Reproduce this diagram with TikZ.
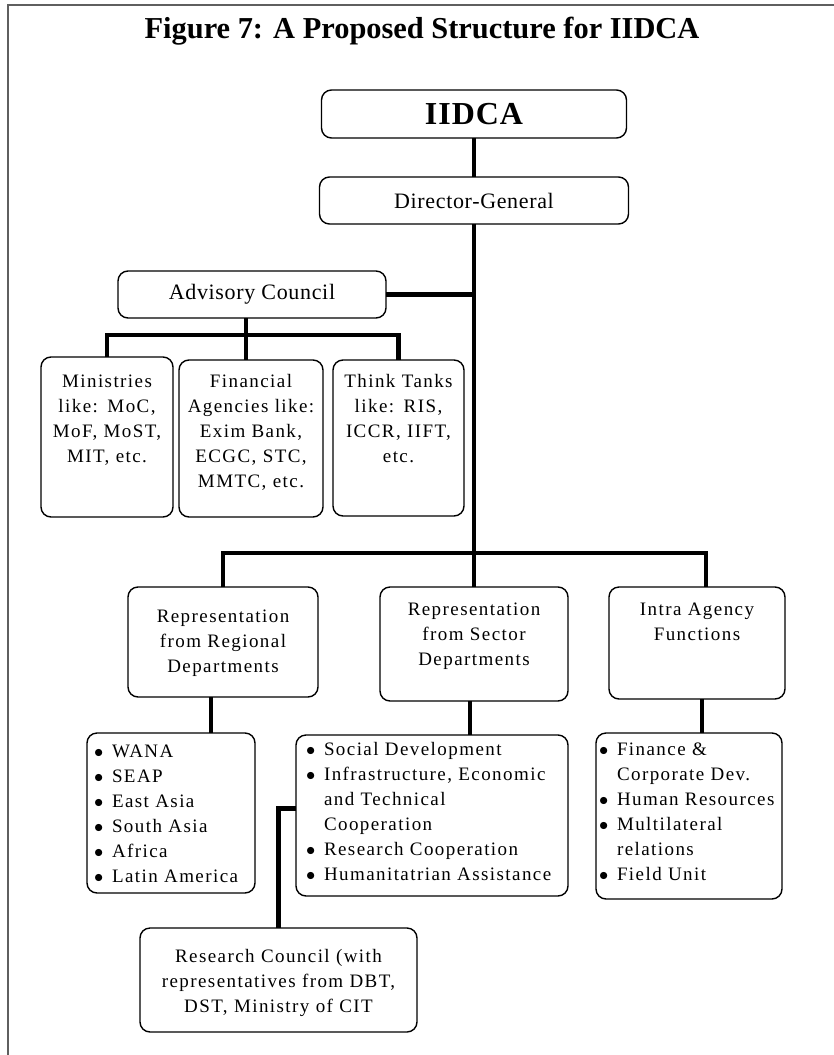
\documentclass[tikz,border=0pt]{standalone}
\usepackage{fontspec}
\setmainfont{Liberation Serif}
\usetikzlibrary{calc}
\definecolor{framegray}{RGB}{95,95,95}
\newcommand{\boxfont}{\fontsize{9.5}{12.5}\selectfont\addfontfeature{LetterSpace=7.5}}
\newcommand{\headfont}{\fontsize{11}{13}\selectfont\addfontfeature{LetterSpace=3}}
\newcommand{\itm}{\makebox[9pt][l]{$\bullet$}}
\newcommand{\cnt}{\hspace*{9pt}}
\tikzstyle{unit}=[draw,rounded corners=5pt,line width=0.7pt,inner ysep=0pt,inner xsep=0pt,outer sep=0pt,anchor=north west,font=\boxfont]
\tikzstyle{headunit}=[draw,rounded corners=5pt,line width=0.7pt,outer sep=0pt,font=\headfont]
\tikzstyle{link}=[line width=2.25pt]
\tikzstyle{framerule}=[draw=framegray,line width=0.8pt]

\begin{document}
\begin{tikzpicture}[x=0.5pt,y=-0.5pt]
  \useasboundingbox (0,0) rectangle (834,1055);
  \draw[framerule] (834,5) -- (8,5) -- (8,1055);
  \node (title) at (422,31) {\fontsize{15.2}{18}\selectfont\bfseries Figure 7: A Proposed Structure for IIDCA};

  % top of the chart
  \node[headunit,minimum width=152.5pt,minimum height=24pt] (iidca) at (474,114) {\fontsize{16}{18}\selectfont\bfseries IIDCA};
  \node[headunit,minimum width=154.5pt,minimum height=23.5pt] (dg) at (474,200.5) {Director-General};
  \node[headunit,minimum width=134pt,minimum height=23.5pt] (ac) at (252,294.5) {Advisory Council};
  \coordinate (advbar) at (0,335);
  \coordinate (spine) at (474,553);

  \node[unit,align=center,text width=66pt,text height=15pt,text depth=65pt] (ministries) at (41,357) {Ministries\\ like: MoC,\\ MoF, MoST,\\ MIT, etc.};
  \node[unit,align=center,text width=72pt,text height=13.5pt,text depth=65pt] (financial) at (179,360) {Financial\\ Agencies like:\\ Exim Bank,\\ ECGC, STC,\\ MMTC, etc.};
  \node[unit,align=center,text width=65.5pt,text height=13.5pt,text depth=64.5pt] (think) at (333,360) {Think Tanks\\ like: RIS,\\ ICCR, IIFT,\\ etc.};

  % departments
  \node[unit,align=center,text width=95pt,text height=17.5pt,text depth=37.5pt] (regional) at (128,587) {Representation\\ from Regional\\ Departments};
  \node[unit,align=center,text width=94pt,text height=14pt,text depth=43pt] (sector) at (380,587) {Representation\\ from Sector\\ Departments};
  \node[unit,align=center,text width=88pt,text height=14pt,text depth=42pt] (intra) at (609,587) {Intra Agency\\ Functions};

  \node[unit,align=left,inner xsep=3.5pt,text width=77pt,text height=12pt,text depth=68pt] (reglist) at (87,733) {\itm WANA\\ \itm SEAP\\ \itm East Asia\\ \itm South Asia\\ \itm Africa\\ \itm Latin America};
  \node[unit,align=left,inner xsep=5pt,text width=126pt,text height=10pt,text depth=70.5pt] (seclist) at (296,735) {\itm Social Development\\ \itm Infrastructure, Economic\\ \cnt and Technical\\ \cnt Cooperation\\ \itm Research Cooperation\\ \itm Humanitatrian Assistance};
  \node[unit,align=left,inner xsep=1.5pt,text width=90pt,text height=11pt,text depth=72pt] (intralist) at (596,733) {\itm Finance \&\\ \cnt Corporate Dev.\\ \itm Human Resources\\ \itm Multilateral\\ \cnt relations\\ \itm Field Unit};

  \node[unit,align=center,text width=138.5pt,text height=17pt,text depth=35pt] (rc) at (140,928) {Research Council (with\\ representatives from DBT,\\ DST, Ministry of CIT};

  % connectors
  \draw[link] (iidca.south) -- (iidca.south |- dg.north);
  \draw[link] (dg.south) -- (spine);
  \draw[link] (ac.east) -- (ac.east -| spine);
  \draw[link] (ministries.north) |- (think.north |- advbar) -- (think.north);
  \draw[link] ([xshift=-3pt]ac.south) -- ([xshift=-3pt]ac.south |- financial.north);
  \draw[link] (regional.north) |- (spine) -| ([xshift=4.5pt]intra.north);
  \draw[link] (spine) -- (spine |- sector.north);
  \draw[link] ([xshift=-6pt]regional.south) -- ([xshift=-6pt]regional.south |- reglist.north);
  \draw[link] ([xshift=-2pt]sector.south) -- ([xshift=-2pt]sector.south |- seclist.north);
  \draw[link] ([xshift=2.5pt]intra.south) -- ([xshift=2.5pt]intra.south |- intralist.north);
  \draw[link] ([yshift=3.5pt]seclist.west) -| (rc.north);
\end{tikzpicture}
\end{document}
